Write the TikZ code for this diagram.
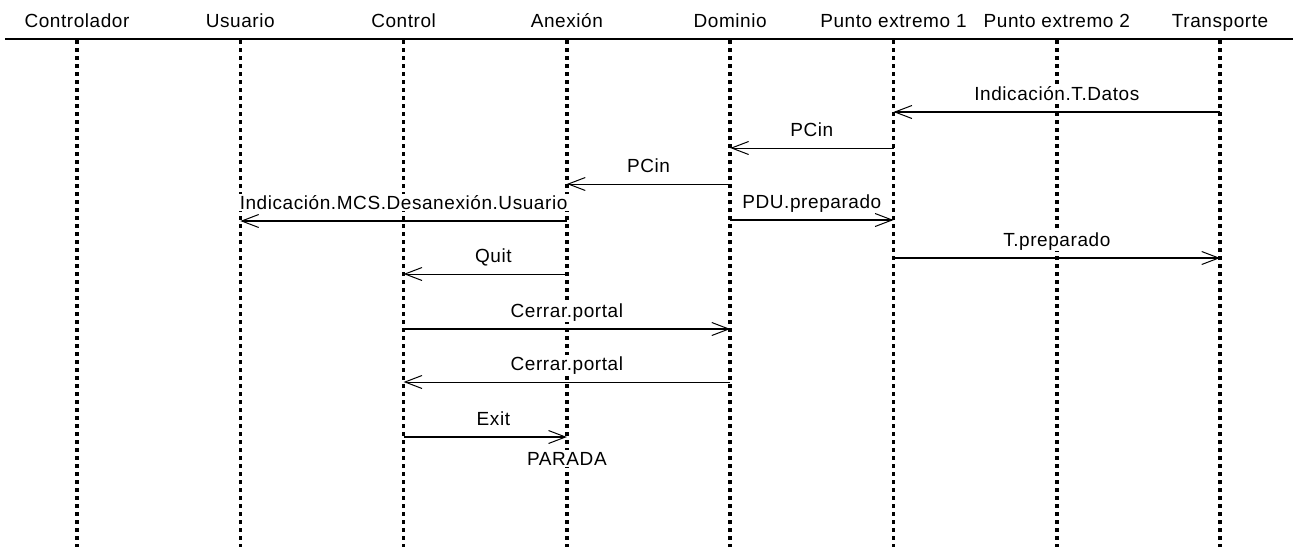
\documentclass[tikz,border=0pt]{standalone}
\usepackage{fontspec}
\setmainfont{Liberation Sans}[LetterSpace=3]
\usetikzlibrary{arrows.meta}

\begin{document}
\begin{tikzpicture}[x=1pt,y=-1pt,
        head/.style={anchor=base,font=\fontsize{19}{22}\selectfont},
        life/.style={line width=3.6pt,dash pattern=on 3.6pt off 4.4pt},
        msg/.style={line width=2pt,-{Straight Barb[length=17pt,width=13pt,line width=1pt]}},
        msgthin/.style={msg,line width=1pt},
        lbl/.style={head,fill=white,inner sep=1.5pt}]
        \useasboundingbox (0,0) rectangle (1297,547);
        \coordinate (bot) at (0,547);

        % lifelines
        \foreach \nm/\tx [count=\i from 0] in {ctl/Controlador,usr/Usuario,con/Control,anx/Anexión,dom/Dominio,pe1/Punto extremo 1,pe2/Punto extremo 2,tra/Transporte}{
            \node[head] (\nm-h) at ({77+163.3*\i},27) {\tx};
            \coordinate (\nm) at ({77+163.3*\i},40);
            \draw[life] (\nm) -- (\nm |- bot);
        }
        \draw[line width=1.2pt] (5,39)--(1293,39);

        % messages
        \coordinate (r1) at (0,112);
        \coordinate (r2) at (0,148);
        \coordinate (r3) at (0,184);
        \coordinate (r4) at (0,221);
        \coordinate (r5) at (0,220);
        \coordinate (r6) at (0,258);
        \coordinate (r7) at (0,274);
        \coordinate (r8) at (0,329);
        \coordinate (r9) at (0,382);
        \coordinate (r10) at (0,437);

        \draw[msg] (tra |- r1)--(pe1 |- r1) node[lbl,pos=0.5,yshift=12pt]{Indicación.T.Datos};
        \draw[msgthin] (pe1 |- r2)--(dom |- r2) node[lbl,pos=0.5,yshift=12pt]{PCin};
        \draw[msgthin] (dom |- r3)--(anx |- r3) node[lbl,pos=0.5,yshift=12pt]{PCin};
        \draw[msg] (anx |- r4)--(usr |- r4) node[lbl,pos=0.5,yshift=12pt]{Indicación.MCS.Desanexión.Usuario};
        \draw[msg] (dom |- r5)--(pe1 |- r5) node[lbl,pos=0.5,yshift=12pt]{PDU.preparado};
        \draw[msg] (pe1 |- r6)--(tra |- r6) node[lbl,pos=0.5,yshift=12pt]{T.preparado};
        \draw[msgthin] (anx |- r7)--(con |- r7) node[lbl,pos=0.45,yshift=12pt]{Quit};
        \draw[msg] (con |- r8)--(dom |- r8) node[lbl,pos=0.5,yshift=12pt]{Cerrar.portal};
        \draw[msgthin] (dom |- r9)--(con |- r9) node[lbl,pos=0.5,yshift=12pt]{Cerrar.portal};
        \draw[msg] (con |- r10)--(anx |- r10) node[lbl,pos=0.55,yshift=12pt]{Exit};

        \node[lbl] (stop) at ([yshift=-28pt]anx |- r10) {PARADA};
    \end{tikzpicture}
\end{document}
